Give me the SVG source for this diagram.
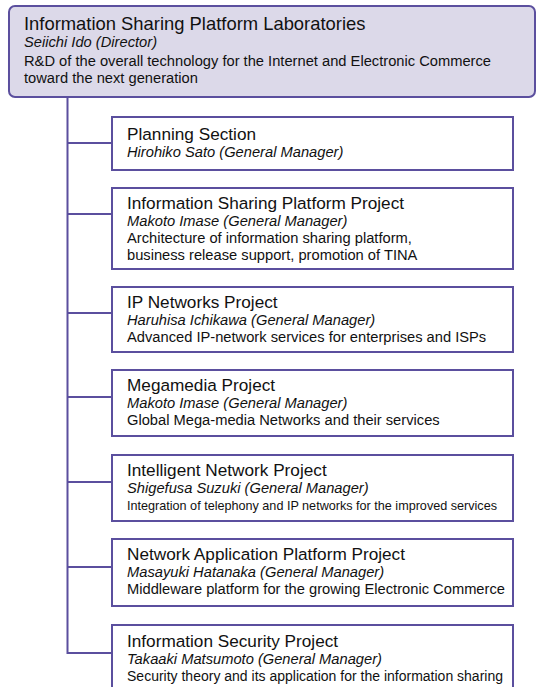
<svg xmlns="http://www.w3.org/2000/svg" width="540" height="687" viewBox="0 0 540 687">
  <style>
    .box { fill: #ffffff; stroke: #5b4f9e; stroke-width: 2; }
    .head { fill: #dcd9e9; stroke: #5b4f9e; stroke-width: 2; }
    .wire { fill: none; stroke: #5b4f9e; stroke-width: 2; }
    text { font-family: "Liberation Sans", Arial, sans-serif; fill: #111111; }
    .t1 { font-size: 18.4px; }
    .t2 { font-size: 17.2px; }
    .mgr { font-size: 14.7px; font-style: italic; }
    .desc { font-size: 14.7px; }
    .narrow { font-size: 13px; }
  </style>

  <!-- connectors: trunk from the laboratory box, one branch per section -->
  <g id="connectors">
    <path class="wire" d="M67.5 97 V653 H112"/>
    <path class="wire" d="M67.5 143 H112"/>
    <path class="wire" d="M67.5 214 H112"/>
    <path class="wire" d="M67.5 313 H112"/>
    <path class="wire" d="M67.5 397 H112"/>
    <path class="wire" d="M67.5 482 H112"/>
    <path class="wire" d="M67.5 567 H112"/>
  </g>

  <g id="laboratories">
    <rect class="head" x="9" y="6" width="526" height="91" rx="6"/>
    <text class="t1" x="24" y="30">Information Sharing Platform Laboratories</text>
    <text class="mgr" x="24" y="47">Seiichi Ido (Director)</text>
    <text class="desc" x="24" y="66">R&amp;D of the overall technology for the Internet and Electronic Commerce</text>
    <text class="desc" x="24" y="83">toward the next generation</text>
  </g>

  <g id="planning">
    <rect class="box" x="112" y="117" width="401" height="53"/>
    <text class="t2" x="127" y="140">Planning Section</text>
    <text class="mgr" x="127" y="157">Hirohiko Sato (General Manager)</text>
  </g>

  <g id="isp-project">
    <rect class="box" x="112" y="188" width="401" height="81"/>
    <text class="t2" x="127" y="209">Information Sharing Platform Project</text>
    <text class="mgr" x="127" y="226">Makoto Imase (General Manager)</text>
    <text class="desc" x="127" y="243">Architecture of information sharing platform,</text>
    <text class="desc" x="127" y="260">business release support, promotion of TINA</text>
  </g>

  <g id="ip-networks">
    <rect class="box" x="112" y="287" width="401" height="65"/>
    <text class="t2" x="127" y="308">IP Networks Project</text>
    <text class="mgr" x="127" y="325">Haruhisa Ichikawa (General Manager)</text>
    <text class="desc" x="127" y="342">Advanced IP-network services for enterprises and ISPs</text>
  </g>

  <g id="megamedia">
    <rect class="box" x="112" y="370" width="401" height="66"/>
    <text class="t2" x="127" y="391">Megamedia Project</text>
    <text class="mgr" x="127" y="408">Makoto Imase (General Manager)</text>
    <text class="desc" x="127" y="425">Global Mega-media Networks and their services</text>
  </g>

  <g id="intelligent-network">
    <rect class="box" x="112" y="455" width="401" height="66"/>
    <text class="t2" x="127" y="476">Intelligent Network Project</text>
    <text class="mgr" x="127" y="493">Shigefusa Suzuki (General Manager)</text>
    <text class="narrow" x="127" y="510" textLength="370" lengthAdjust="spacingAndGlyphs">Integration of telephony and IP networks for the improved services</text>
  </g>

  <g id="network-application">
    <rect class="box" x="112" y="539" width="401" height="67"/>
    <text class="t2" x="127" y="560">Network Application Platform Project</text>
    <text class="mgr" x="127" y="577">Masayuki Hatanaka (General Manager)</text>
    <text class="desc" x="127" y="594">Middleware platform for the growing Electronic Commerce</text>
  </g>

  <g id="information-security">
    <rect class="box" x="112" y="625" width="401" height="80"/>
    <text class="t2" x="127" y="647">Information Security Project</text>
    <text class="mgr" x="127" y="664">Takaaki Matsumoto (General Manager)</text>
    <text class="desc" x="127" y="681" textLength="376" lengthAdjust="spacingAndGlyphs">Security theory and its application for the information sharing</text>
  </g>
</svg>
